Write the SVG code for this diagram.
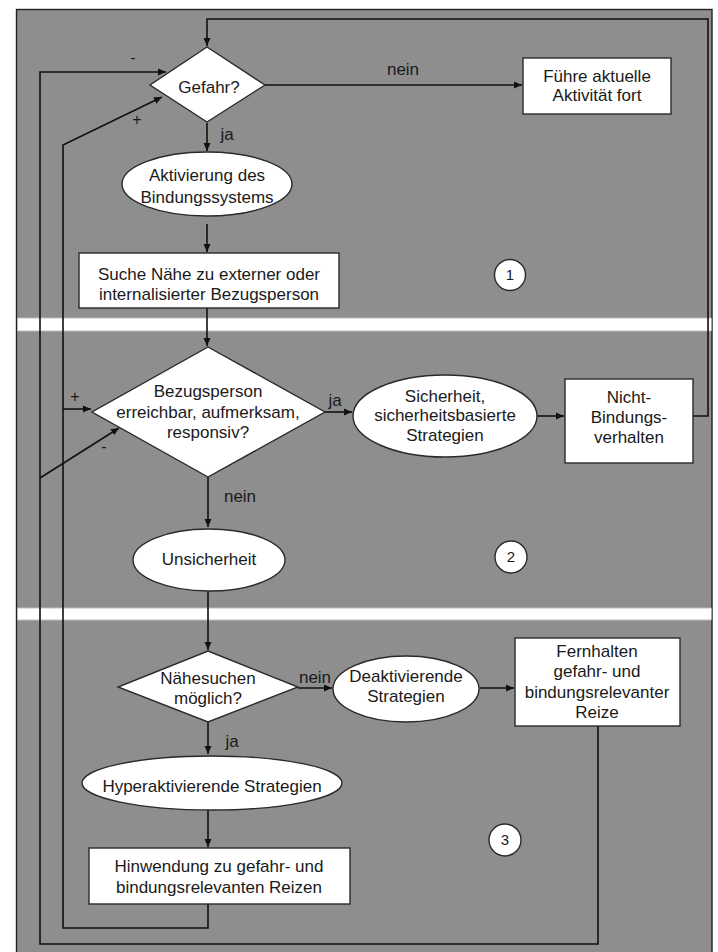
<svg xmlns="http://www.w3.org/2000/svg" width="718" height="952" viewBox="0 0 718 952">
<style>
  .n { fill: #ffffff; stroke: #2a2a2a; stroke-width: 1.4; }
  .t { font-family: "Liberation Sans", Arial, sans-serif; font-size: 17px; fill: #1a1a1a; text-anchor: middle; }
  .l { font-family: "Liberation Sans", Arial, sans-serif; font-size: 16px; fill: #1a1a1a; text-anchor: middle; }
  .c { fill: none; stroke: #111111; stroke-width: 1.6; }
  .num { font-family: "Liberation Sans", Arial, sans-serif; font-size: 15px; fill: #1a1a1a; text-anchor: middle; }
</style>
<defs>
  <marker id="arr" markerUnits="userSpaceOnUse" markerWidth="9" markerHeight="8" refX="8" refY="4" orient="auto">
    <path d="M0,0.5 L8,4 L0,7.5 Z" fill="#111111"/>
  </marker>
</defs>
<rect x="0" y="0" width="718" height="952" fill="#ffffff"/>
<g id="panels">
  <rect x="16.5" y="9.5" width="695.5" height="950" fill="#8e8e8e" stroke="#222222" stroke-width="1.4"/>
  <rect x="17.5" y="318" width="694" height="13" fill="#ffffff"/>
  <line x1="17.5" y1="318" x2="711" y2="318" stroke="#bdbdbd" stroke-width="1"/>
  <line x1="17.5" y1="331" x2="711" y2="331" stroke="#bdbdbd" stroke-width="1"/>
  <rect x="17.5" y="608" width="694" height="12" fill="#ffffff"/>
  <line x1="17.5" y1="608" x2="711" y2="608" stroke="#bdbdbd" stroke-width="1"/>
  <line x1="17.5" y1="620" x2="711" y2="620" stroke="#bdbdbd" stroke-width="1"/>
</g>
<g id="connectors">
  <path class="c" d="M693,416 H708 V19 H207 V46" marker-end="url(#arr)"/>
  <path class="c" d="M265,85 H522" marker-end="url(#arr)"/>
  <path class="c" d="M207,123 V151" marker-end="url(#arr)"/>
  <path class="c" d="M207,224 V252" marker-end="url(#arr)"/>
  <path class="c" d="M207,308 V346" marker-end="url(#arr)"/>
  <path class="c" d="M325,412 H352" marker-end="url(#arr)"/>
  <path class="c" d="M537,416 H564" marker-end="url(#arr)"/>
  <path class="c" d="M208,477 V527" marker-end="url(#arr)"/>
  <path class="c" d="M208,591 V650" marker-end="url(#arr)"/>
  <path class="c" d="M298,688 H332" marker-end="url(#arr)"/>
  <path class="c" d="M480,688 H514" marker-end="url(#arr)"/>
  <path class="c" d="M208,722 V754" marker-end="url(#arr)"/>
  <path class="c" d="M208,810 V847" marker-end="url(#arr)"/>
  <path class="c" d="M208,904 V928 H63 V145 L162,97" marker-end="url(#arr)"/>
  <path class="c" d="M63,409 H91" marker-end="url(#arr)"/>
  <path class="c" d="M598,726 V944 H40 V72 H166" marker-end="url(#arr)"/>
  <path class="c" d="M40,478 L119,428" marker-end="url(#arr)"/>
  <text class="l" x="133" y="63">-</text>
  <text class="l" x="137" y="125">+</text>
  <text class="l" x="75" y="402">+</text>
  <text class="l" x="104" y="452">-</text>
  <text class="t" x="227" y="140">ja</text>
  <text class="t" x="403" y="75">nein</text>
  <text class="t" x="335" y="406">ja</text>
  <text class="t" x="240" y="502">nein</text>
  <text class="t" x="315" y="683">nein</text>
  <text class="t" x="232" y="747">ja</text>
</g>
<g id="gefahr">
  <polygon class="n" points="207,47 265,85 207,122 150,85"/>
  <text class="t" x="209" y="93">Gefahr?</text>
</g>
<g id="fuehre">
  <rect class="n" x="523" y="58" width="148" height="56"/>
  <text class="t" x="597" y="82">Führe aktuelle</text>
  <text class="t" x="597" y="101">Aktivität fort</text>
</g>
<g id="aktivierung">
  <ellipse class="n" cx="207" cy="184" rx="85" ry="32"/>
  <text class="t" x="207" y="181">Aktivierung des</text>
  <text class="t" x="207" y="203">Bindungssystems</text>
</g>
<g id="suche">
  <rect class="n" x="79" y="253" width="260" height="55"/>
  <text class="t" x="209" y="280">Suche Nähe zu externer oder</text>
  <text class="t" x="209" y="300">internalisierter Bezugsperson</text>
</g>
<g id="circle1">
  <circle class="n" cx="510" cy="275" r="15.5"/>
  <text class="num" x="510" y="280">1</text>
</g>
<g id="bezugsperson">
  <polygon class="n" points="208,347 325,412 208,477 92,412"/>
  <text class="t" x="208" y="397">Bezugsperson</text>
  <text class="t" x="208" y="418">erreichbar, aufmerksam,</text>
  <text class="t" x="208" y="438">responsiv?</text>
</g>
<g id="sicherheit">
  <ellipse class="n" cx="445" cy="416" rx="92" ry="41"/>
  <text class="t" x="445" y="402">Sicherheit,</text>
  <text class="t" x="445" y="421">sicherheitsbasierte</text>
  <text class="t" x="445" y="441">Strategien</text>
</g>
<g id="nicht">
  <rect class="n" x="565" y="379" width="128" height="84"/>
  <text class="t" x="629" y="403">Nicht-</text>
  <text class="t" x="629" y="423">Bindungs-</text>
  <text class="t" x="629" y="443">verhalten</text>
</g>
<g id="unsicherheit">
  <ellipse class="n" cx="209" cy="560" rx="76" ry="31"/>
  <text class="t" x="209" y="565">Unsicherheit</text>
</g>
<g id="circle2">
  <circle class="n" cx="511" cy="557" r="16"/>
  <text class="num" x="511" y="562">2</text>
</g>
<g id="naehesuchen">
  <polygon class="n" points="208,651 298,687 208,722 118,687"/>
  <text class="t" x="208" y="684">Nähesuchen</text>
  <text class="t" x="208" y="704">möglich?</text>
</g>
<g id="deaktivierende">
  <ellipse class="n" cx="406" cy="689" rx="73" ry="33"/>
  <text class="t" x="406" y="682">Deaktivierende</text>
  <text class="t" x="406" y="702">Strategien</text>
</g>
<g id="fernhalten">
  <rect class="n" x="515" y="638" width="165" height="88"/>
  <text class="t" x="597" y="657">Fernhalten</text>
  <text class="t" x="597" y="677">gefahr- und</text>
  <text class="t" x="597" y="698">bindungsrelevanter</text>
  <text class="t" x="597" y="718">Reize</text>
</g>
<g id="hyperaktivierende">
  <ellipse class="n" cx="212" cy="783" rx="130" ry="27"/>
  <text class="t" x="212" y="792">Hyperaktivierende Strategien</text>
</g>
<g id="hinwendung">
  <rect class="n" x="89" y="848" width="261" height="56"/>
  <text class="t" x="219" y="872">Hinwendung zu gefahr- und</text>
  <text class="t" x="219" y="893">bindungsrelevanten Reizen</text>
</g>
<g id="circle3">
  <circle class="n" cx="505" cy="840" r="16"/>
  <text class="num" x="505" y="845">3</text>
</g>
</svg>
